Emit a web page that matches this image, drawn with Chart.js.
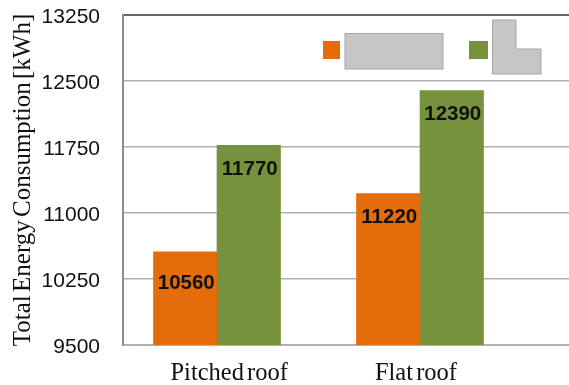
<!DOCTYPE html>
<html>
<head>
<meta charset="utf-8">
<style>
  html, body { margin: 0; padding: 0; background: #fff; }
  canvas { display: block; }
</style>
<script src="https://cdn.jsdelivr.net/npm/chart.js@4"></script>
</head>
<body>
<canvas id="chart" width="569" height="385"></canvas>
<script>
// Roof types and the annual consumption of each building form
const categories = ['Pitched roof', 'Flat roof'];
const compactBuilding = [10560, 11220];
const lShapedBuilding = [11770, 12390];
const yTicks = [9500, 10250, 11000, 11750, 12500, 13250];

// Group centres on the numeric x axis, and where their captions sit
const groupPositions = [1, 2];
const captionPositions = [1.06, 1.98];

// Vertical drop of each value label below the top of its bar
const compactLabelDrop = [32, 24];
const lShapedLabelDrop = [24, 24];

const ORANGE = '#e46c0a';
const GREEN = '#76923c';
const SHAPE = '#c6c6c6';
const SHAPE_EDGE = '#a6a6a6';

function points(values) {
  return values.map((v, i) => ({ x: groupPositions[i], y: v }));
}

// Serif captions use tight word gaps
const tightWords = {
  id: 'tightWords',
  beforeDraw(chart) { chart.ctx.wordSpacing = '-3px'; }
};

// Bold value text inside the top of each bar
const valueLabels = {
  id: 'valueLabels',
  afterDatasetsDraw(chart) {
    const ctx = chart.ctx;
    const drops = [compactLabelDrop, lShapedLabelDrop];
    ctx.save();
    ctx.font = 'bold 20.5px "Liberation Sans"';
    ctx.fillStyle = '#111';
    ctx.textAlign = 'center';
    ctx.textBaseline = 'middle';
    chart.data.datasets.forEach((ds, d) => {
      chart.getDatasetMeta(d).data.forEach((bar, i) => {
        ctx.fillText(String(ds.data[i].y), bar.x + 1, bar.y + drops[d][i]);
      });
    });
    ctx.restore();
  }
};

// Key: a colour swatch next to a plan view of each building form
const shapeKey = {
  id: 'shapeKey',
  afterDraw(chart) {
    const ctx = chart.ctx;
    ctx.save();
    ctx.fillStyle = ORANGE;
    ctx.fillRect(323, 41, 17, 18);
    ctx.fillStyle = GREEN;
    ctx.fillRect(469, 41, 19, 18);
    ctx.fillStyle = SHAPE;
    ctx.strokeStyle = SHAPE_EDGE;
    ctx.lineWidth = 1;
    ctx.fillRect(345, 33.5, 98, 35.5);
    ctx.strokeRect(345, 33.5, 98, 35.5);
    ctx.beginPath();
    ctx.moveTo(492.5, 20);
    ctx.lineTo(516, 20);
    ctx.lineTo(516, 49);
    ctx.lineTo(541, 49);
    ctx.lineTo(541, 74);
    ctx.lineTo(492.5, 74);
    ctx.closePath();
    ctx.fill();
    ctx.stroke();
    ctx.restore();
  }
};

new Chart(document.getElementById('chart'), {
  type: 'bar',
  data: {
    datasets: [
      { data: points(compactBuilding), backgroundColor: ORANGE, barThickness: 63.5 },
      { data: points(lShapedBuilding), backgroundColor: GREEN, barThickness: 63.5 }
    ]
  },
  options: {
    responsive: false,
    animation: false,
    layout: { autoPadding: false, padding: { top: 15, right: 0, bottom: 0, left: 0 } },
    plugins: { legend: { display: false }, tooltip: { enabled: false } },
    scales: {
      x: {
        type: 'linear',
        offset: false,
        min: 0.537,
        max: 2.734,
        afterFit(scale) { scale.height = 40; },
        afterBuildTicks(scale) {
          scale.ticks = captionPositions.map(value => ({ value }));
        },
        grid: { display: false, drawTicks: false },
        border: { display: false },
        ticks: {
          autoSkip: false,
          maxRotation: 0,
          padding: 14,
          color: '#111',
          font: { family: '"Liberation Serif"', size: 24.5 },
          callback(value) { return categories[captionPositions.indexOf(value)]; }
        }
      },
      y: {
        min: 9500,
        max: 13250,
        afterFit(scale) { scale.width = 123; },
        afterBuildTicks(scale) {
          scale.ticks = yTicks.map(value => ({ value }));
        },
        border: { display: true, color: '#8c8c8c', width: 2 },
        grid: {
          drawTicks: true,
          tickLength: 23,
          tickColor: 'rgba(0,0,0,0)',
          color: ctx => ctx.tick.value === 13250 ? '#666666' : '#b0b0b0',
          lineWidth: ctx => ctx.tick.value === 13250 || ctx.tick.value === 9500 ? 2 : 1.5
        },
        ticks: {
          padding: 0,
          color: '#111',
          // A blank leading line with a short line height nudges each number just below its gridline
          font: { family: '"Liberation Sans"', size: 21, lineHeight: '5px' },
          callback: value => ['', String(value)]
        },
        title: {
          display: true,
          text: 'Total Energy Consumption [kWh]',
          color: '#111',
          padding: { top: 8, bottom: 0 },
          font: { family: '"Liberation Serif"', size: 25, weight: 'normal' }
        }
      }
    }
  },
  plugins: [tightWords, valueLabels, shapeKey]
});
</script>
</body>
</html>
